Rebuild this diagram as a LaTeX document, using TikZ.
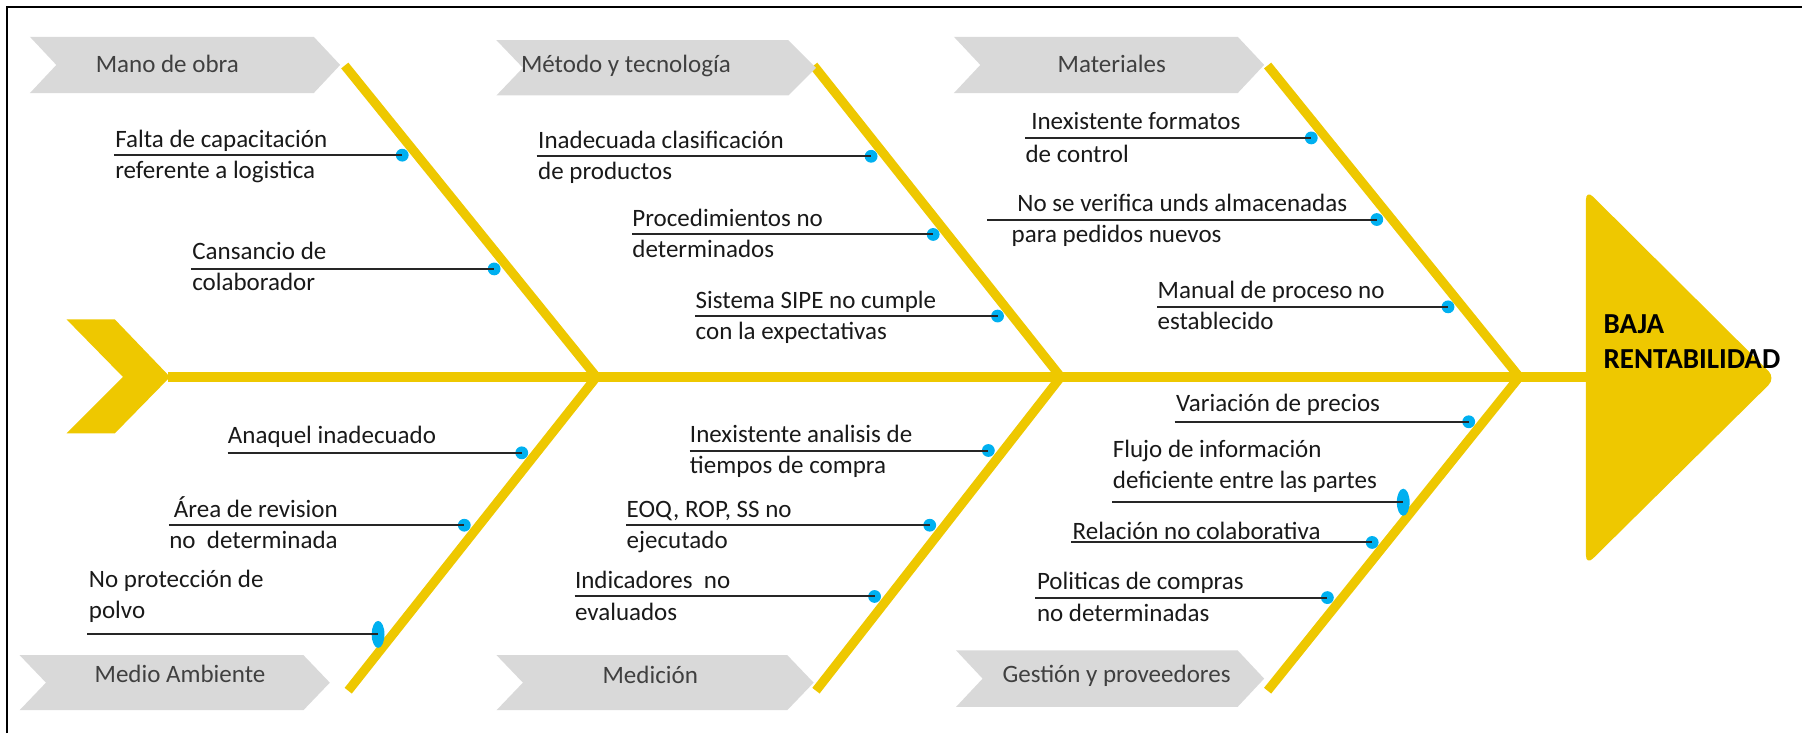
\documentclass[tikz,border=0pt]{standalone}
\usepackage{fontspec}
\setmainfont{Carlito}
\usepackage{xcolor}
\usepackage{tikz}
\usetikzlibrary{shapes.geometric}

\definecolor{espina}{RGB}{238,200,0}
\definecolor{etiqueta}{RGB}{217,217,217}
\definecolor{punto}{RGB}{0,176,240}
\definecolor{textogris}{RGB}{64,64,64}

\begin{document}
\begin{tikzpicture}[x=0.5745pt,y=-0.5745pt,
	bone/.style={espina,line width=4.6pt,miter limit=10},
	cause/.style={black!85,line width=1pt},
	dot/.style={circle,fill=punto,inner sep=0pt,minimum size=6.4pt},
	bigdot/.style={ellipse,fill=punto,inner sep=0pt,minimum width=6.4pt,minimum height=13.5pt},
	txt/.style={anchor=base west,inner sep=0pt,text=black!90,font=\fontsize{12.5}{15}\selectfont},
	cat/.style={anchor=base west,inner sep=0pt,text=textogris,font=\fontsize{12.5}{15}\selectfont},
	tag/.style={fill=etiqueta}]
	\useasboundingbox (0,0) rectangle (1568,638);
	\draw[line width=1.3pt] (6,638) -- (6,6) -- (1568,6);

	% tail, spine and head
	\fill[espina] (58,278) -- (100,278) -- (148,328) -- (100,377) -- (58,377) -- (107,328) -- cycle;
	\fill[espina,rounded corners=5pt] (1380,165) -- (1545,329) -- (1380,492) -- cycle;
	\coordinate (cola) at (146,328);
	\coordinate (cabeza) at (1382,328);
	\draw[espina,line width=5pt] (cola) -- (cabeza);
	\node[anchor=base west,inner sep=0pt,font=\bfseries\fontsize{14.5}{17}\selectfont] (efecto1) at (1395,290) {BAJA};
	\node[anchor=base west,inner sep=0pt,font=\bfseries\fontsize{14.5}{17}\selectfont] (efecto2) at (1395,321) {RENTABILIDAD};

	% bones
	\coordinate (u1) at (300,57);
	\coordinate (j1) at (519,328);
	\coordinate (l1) at (303,601);
	\coordinate (u2) at (708,57);
	\coordinate (j2) at (923,328);
	\coordinate (l2) at (710,601);
	\coordinate (u3) at (1103,57);
	\coordinate (j3) at (1322,328);
	\coordinate (l3) at (1103,601);
	\draw[bone] (u1) -- (j1) -- (l1);
	\draw[bone] (u2) -- (j2) -- (l2);
	\draw[bone] (u3) -- (j3) -- (l3);

	% category tags
	\fill[tag] (26,32) -- (273,32) -- (296,56.5) -- (273,81) -- (26,81) -- (49,56.5) -- cycle;
	\fill[tag] (432,35) -- (686,35) -- (710,59) -- (686,83) -- (432,83) -- (455,59) -- cycle;
	\fill[tag] (830,32) -- (1077,32) -- (1100,56.5) -- (1077,81) -- (830,81) -- (853,56.5) -- cycle;
	\fill[tag] (17,570) -- (264,570) -- (287,594) -- (264,618) -- (17,618) -- (40,594) -- cycle;
	\fill[tag] (432,570) -- (685,570) -- (708,594) -- (685,618) -- (432,618) -- (455,594) -- cycle;
	\fill[tag] (832,566) -- (1077,566) -- (1100,590.5) -- (1077,615) -- (832,615) -- (855,590.5) -- cycle;
	\node[cat] (manoobra) at (83,63) {Mano de obra};
	\node[cat] (metodo) at (453,63) {Método y tecnología};
	\node[cat] (materiales) at (920,63) {Materiales};
	\node[cat] (medio) at (82,594) {Medio Ambiente};
	\node[cat] (medicion) at (524,595) {Medición};
	\node[cat] (gestion) at (872,594) {Gestión y proveedores};

	% Mano de obra
	\coordinate (s1) at (99,135);
	\node[dot] (d1) at (350,135) {};
	\draw[cause] (s1) -- (d1.center);
	\node[txt] (t1a) at (100,128) {Falta de capacitación};
	\node[txt] (t1b) at (100,155) {referente a logistica};
	\coordinate (s2) at (166,234);
	\node[dot] (d2) at (430,234) {};
	\draw[cause] (s2) -- (d2.center);
	\node[txt] (t2a) at (167,226) {Cansancio de};
	\node[txt] (t2b) at (167,253) {colaborador};

	% Metodo y tecnologia
	\coordinate (s3) at (467,136);
	\node[dot] (d3) at (758,136) {};
	\draw[cause] (s3) -- (d3.center);
	\node[txt] (t3a) at (468,129) {Inadecuada clasificación};
	\node[txt] (t3b) at (468,156) {de productos};
	\coordinate (s4) at (550,204);
	\node[dot] (d4) at (812,204) {};
	\draw[cause] (s4) -- (d4.center);
	\node[txt] (t4a) at (550,197) {Procedimientos no};
	\node[txt] (t4b) at (550,224) {determinados};
	\coordinate (s5) at (605,275);
	\node[dot] (d5) at (868,275) {};
	\draw[cause] (s5) -- (d5.center);
	\node[txt] (t5a) at (605,268) {Sistema SIPE no cumple};
	\node[txt] (t5b) at (605,295) {con la expectativas};

	% Materiales
	\coordinate (s6) at (892,120);
	\node[dot] (d6) at (1141,120) {};
	\draw[cause] (s6) -- (d6.center);
	\node[txt] (t6a) at (897,113) {Inexistente formatos};
	\node[txt] (t6b) at (892,141) {de control};
	\coordinate (s7) at (859,191);
	\node[dot] (d7) at (1198,191) {};
	\draw[cause] (s7) -- (d7.center);
	\node[txt] (t7a) at (885,184) {No se verifica unds almacenadas};
	\node[txt] (t7b) at (880,211) {para pedidos nuevos};
	\coordinate (s8) at (1007,267);
	\node[dot] (d8) at (1260,267) {};
	\draw[cause] (s8) -- (d8.center);
	\node[txt] (t8a) at (1007,260) {Manual de proceso no};
	\node[txt] (t8b) at (1007,287) {establecido};

	% Medio Ambiente
	\coordinate (s9) at (198,394);
	\node[dot] (d9) at (454,394) {};
	\draw[cause] (s9) -- (d9.center);
	\node[txt] (t9a) at (198,386) {Anaquel inadecuado};
	\coordinate (s10) at (147,457);
	\node[dot] (d10) at (404,457) {};
	\draw[cause] (s10) -- (d10.center);
	\node[txt] (t10a) at (151,450) {Área de revision};
	\node[txt] (t10b) at (147,477) {no~ determinada};
	\coordinate (s11) at (76,552);
	\node[bigdot] (d11) at (329,552) {};
	\draw[cause] (s11) -- (d11.center);
	\node[txt] (t11a) at (77,511) {No protección de};
	\node[txt] (t11b) at (77,538) {polvo};

	% Medicion
	\coordinate (s12) at (600,392);
	\node[dot] (d12) at (860,392) {};
	\draw[cause] (s12) -- (d12.center);
	\node[txt] (t12a) at (600,385) {Inexistente analisis de};
	\node[txt] (t12b) at (600,412) {tiempos de compra};
	\coordinate (s13) at (545,457);
	\node[dot] (d13) at (809,457) {};
	\draw[cause] (s13) -- (d13.center);
	\node[txt] (t13a) at (545,450) {EOQ, ROP, SS no};
	\node[txt] (t13b) at (545,477) {ejecutado};
	\coordinate (s14) at (500,519);
	\node[dot] (d14) at (761,519) {};
	\draw[cause] (s14) -- (d14.center);
	\node[txt] (t14a) at (500,512) {Indicadores~ no};
	\node[txt] (t14b) at (500,540) {evaluados};

	% Gestion y proveedores
	\coordinate (s15) at (1022,367);
	\node[dot] (d15) at (1278,367) {};
	\draw[cause] (s15) -- (d15.center);
	\node[txt] (t15a) at (1023,358) {Variación de precios};
	\coordinate (s16) at (968,437);
	\node[bigdot] (d16) at (1221,437) {};
	\draw[cause] (s16) -- (d16.center);
	\node[txt] (t16a) at (968,398) {Flujo de información};
	\node[txt] (t16b) at (968,425) {deficiente entre las partes};
	\coordinate (s17) at (932,472);
	\node[dot] (d17) at (1194,472) {};
	\draw[cause] (s17) -- (d17.center);
	\node[txt] (t17a) at (933,469) {Relación no colaborativa};
	\coordinate (s18) at (901,520);
	\node[dot] (d18) at (1155,520) {};
	\draw[cause] (s18) -- (d18.center);
	\node[txt] (t18a) at (902,513) {Politicas de compras};
	\node[txt] (t18b) at (902,541) {no determinadas};
\end{tikzpicture}
\end{document}
